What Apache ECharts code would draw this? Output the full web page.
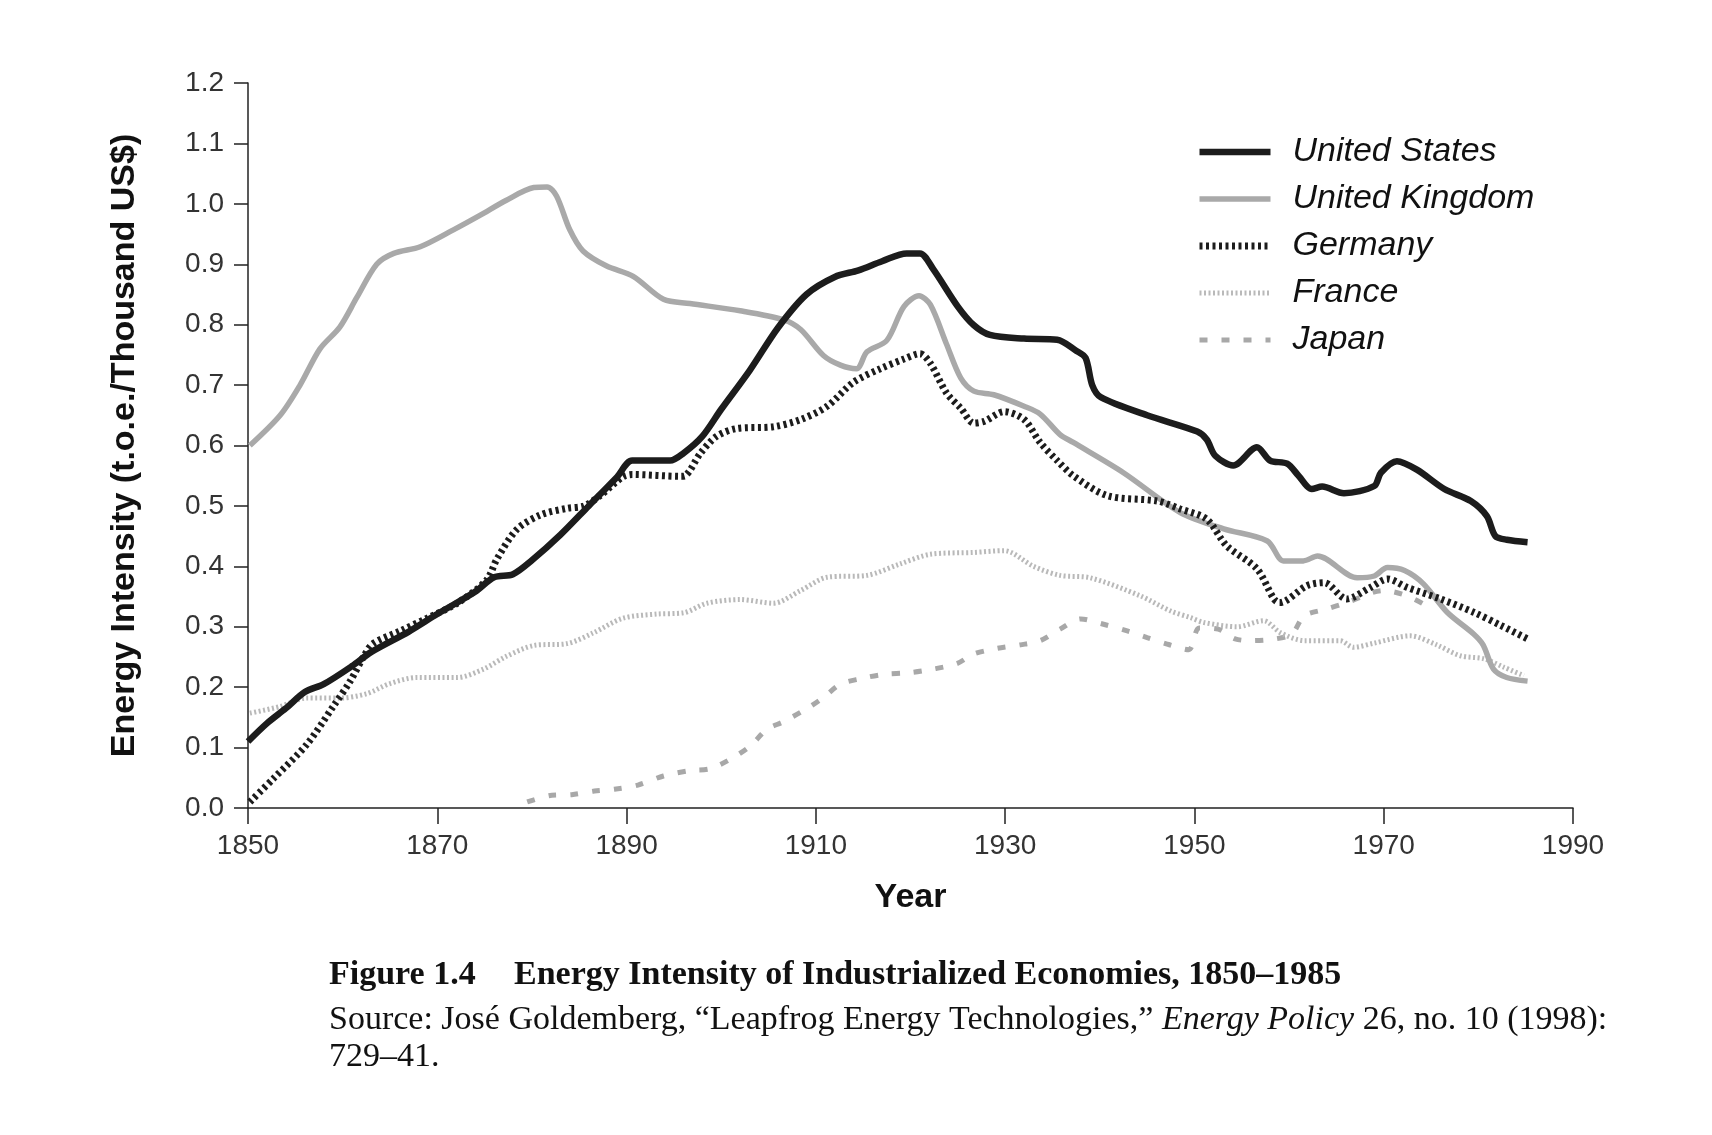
<!DOCTYPE html>
<html>
<head>
<meta charset="utf-8">
<script src="https://cdn.jsdelivr.net/npm/echarts@6/dist/echarts.min.js"></script>
<style>
  html, body { margin: 0; padding: 0; background: #fff; }
  #main { width: 1712px; height: 1135px; }
</style>
</head>
<body>
<div id="main"></div>
<script>
var names = ['United States', 'United Kingdom', 'Germany', 'France', 'Japan'];

// [year, t.o.e. per thousand US$]
var usData = [
  [1850, 0.11], [1852, 0.14], [1854, 0.165], [1856, 0.192], [1858, 0.205], [1861, 0.235],
  [1863, 0.258], [1867, 0.292], [1870, 0.321], [1874, 0.358], [1876, 0.382], [1878, 0.387],
  [1880, 0.41], [1883, 0.452], [1886, 0.50], [1889, 0.548], [1890.6, 0.575], [1894.6, 0.575],
  [1896, 0.587], [1898, 0.615], [1900, 0.66], [1903, 0.724], [1906, 0.795], [1909, 0.85],
  [1912, 0.879], [1914.5, 0.89], [1917, 0.905], [1919.6, 0.918], [1921, 0.918], [1922.4, 0.892],
  [1925, 0.83], [1926.7, 0.799], [1928.4, 0.783], [1932, 0.777], [1935.5, 0.775], [1937.5, 0.757],
  [1938.5, 0.745], [1939.2, 0.70], [1940.1, 0.68], [1945, 0.65], [1950.3, 0.623], [1951.3, 0.61],
  [1952.2, 0.583], [1954.1, 0.567], [1956.6, 0.597], [1958, 0.575], [1959.8, 0.57], [1961, 0.55],
  [1962.4, 0.528], [1963.5, 0.532], [1965.8, 0.521], [1969, 0.533], [1969.7, 0.555], [1971.4, 0.574],
  [1973.5, 0.56], [1976.4, 0.528], [1979.2, 0.508], [1980.9, 0.483], [1981.8, 0.45], [1983, 0.444],
  [1985.2, 0.44]
];
var ukData = [
  [1850.2, 0.60], [1853.4, 0.65], [1855.5, 0.70], [1857.6, 0.76], [1859.7, 0.796], [1861.5, 0.845],
  [1863.6, 0.90], [1865.4, 0.918], [1868.2, 0.929], [1871.7, 0.957], [1874.5, 0.981], [1877.3, 1.006],
  [1880.2, 1.027], [1881.6, 1.028], [1882.6, 1.013], [1884, 0.957], [1885.4, 0.922], [1887.9, 0.897],
  [1890.7, 0.88], [1893.9, 0.842], [1896.7, 0.835], [1902, 0.823], [1906.6, 0.808], [1908.4, 0.792],
  [1910.8, 0.749], [1912.6, 0.733], [1914.3, 0.727], [1915.4, 0.755], [1917.5, 0.774], [1919.3, 0.83],
  [1920.9, 0.848], [1922.1, 0.833], [1923.8, 0.768], [1925.3, 0.712], [1926.7, 0.69], [1928.8, 0.684],
  [1932, 0.665], [1933.7, 0.652], [1935.8, 0.618], [1937.2, 0.605], [1942.5, 0.555], [1948.5, 0.489],
  [1953.1, 0.462], [1957.7, 0.442], [1959.4, 0.409], [1961.5, 0.409], [1963, 0.417], [1967.2, 0.381],
  [1969, 0.384], [1970.4, 0.398], [1972.2, 0.393], [1974.2, 0.371], [1976.7, 0.324], [1979.5, 0.288],
  [1980.5, 0.27], [1981.6, 0.23], [1983, 0.216], [1985.2, 0.21]
];
var deData = [
  [1850.2, 0.01], [1852.7, 0.049], [1856.2, 0.105], [1859, 0.168], [1860.8, 0.21], [1862.2, 0.25],
  [1863.2, 0.272], [1866.1, 0.293], [1868.9, 0.314], [1872.1, 0.339], [1875.2, 0.377], [1876.3, 0.412],
  [1878.4, 0.461], [1880.9, 0.485], [1883.7, 0.496], [1885.5, 0.50], [1887.2, 0.517], [1889.6, 0.548],
  [1890.6, 0.552], [1895.7, 0.549], [1896.2, 0.55], [1897.8, 0.587], [1899.5, 0.615], [1901.6, 0.628],
  [1905.5, 0.631], [1908.4, 0.643], [1911.2, 0.665], [1914, 0.705], [1916.8, 0.727], [1919.3, 0.743],
  [1921, 0.752], [1922.1, 0.736], [1923.8, 0.687], [1925.3, 0.662], [1926.7, 0.637], [1927.8, 0.64],
  [1929.9, 0.656], [1932, 0.643], [1933.7, 0.605], [1935.5, 0.575], [1937.2, 0.55], [1940.8, 0.517],
  [1946.1, 0.508], [1948.5, 0.495], [1951.3, 0.478], [1953.4, 0.434], [1956.6, 0.396], [1958.4, 0.346],
  [1959, 0.34], [1961.9, 0.368], [1963.7, 0.373], [1966.1, 0.346], [1968.6, 0.365], [1970.4, 0.379],
  [1972.5, 0.365], [1976, 0.346], [1979.5, 0.324], [1982.4, 0.302], [1985.2, 0.28]
];
var frData = [
  [1850.2, 0.157], [1853.4, 0.168], [1856.2, 0.182], [1859.7, 0.182], [1862.5, 0.189], [1865, 0.206],
  [1867.8, 0.216], [1872.1, 0.216], [1874.9, 0.23], [1877.3, 0.251], [1880.2, 0.269], [1883.7, 0.272],
  [1886.5, 0.29], [1889.6, 0.314], [1893.2, 0.321], [1896, 0.323], [1898.5, 0.339], [1902, 0.345],
  [1905.5, 0.339], [1908.4, 0.36], [1911.2, 0.382], [1915.4, 0.385], [1918.9, 0.404], [1922.1, 0.42],
  [1926.7, 0.423], [1929.9, 0.426], [1933, 0.40], [1935.8, 0.385], [1939, 0.381], [1944.3, 0.351],
  [1947.5, 0.326], [1949.6, 0.315], [1951, 0.307], [1954.5, 0.30], [1957.3, 0.31], [1959.1, 0.29],
  [1961.6, 0.277], [1965.4, 0.277], [1966.8, 0.266], [1969, 0.273], [1972.8, 0.285], [1975.6, 0.27],
  [1978.1, 0.252], [1980.6, 0.247], [1982.7, 0.233], [1984.8, 0.219]
];
var jpData = [
  [1879.5, 0.01], [1882.1, 0.021], [1884.2, 0.022], [1886.6, 0.028], [1888.7, 0.031], [1891.2, 0.038],
  [1893.9, 0.053], [1896.7, 0.062], [1898.8, 0.065], [1901, 0.081], [1903.1, 0.103], [1904.8, 0.13],
  [1906.6, 0.143], [1909.1, 0.165], [1910.8, 0.183], [1912.6, 0.205], [1914.7, 0.214], [1917.1, 0.221],
  [1919.9, 0.224], [1922.4, 0.23], [1924.9, 0.239], [1926.7, 0.255], [1929.1, 0.264], [1931.6, 0.27],
  [1933.7, 0.277], [1935.8, 0.296], [1938, 0.313], [1940.2, 0.305], [1942.9, 0.293], [1945, 0.282],
  [1947.2, 0.271], [1949.4, 0.262], [1950.5, 0.298], [1952.5, 0.296], [1954.3, 0.28], [1956, 0.277],
  [1958.6, 0.28], [1960.3, 0.288], [1961.6, 0.318], [1963.9, 0.329], [1966.1, 0.34], [1970, 0.36],
  [1972.5, 0.351], [1974.6, 0.334]
];

var sans = '"Liberation Sans", Arial, Helvetica, sans-serif';
var serif = '"Liberation Serif", "Times New Roman", serif';

var myChart = echarts.init(document.getElementById('main'));

function lineSeries(name, data, color, width, dash) {
  return {
    name: name,
    type: 'line',
    data: data,
    smooth: 0.3,
    symbol: 'none',
    lineStyle: { color: color, width: width, type: dash, cap: 'butt' },
    itemStyle: { color: color }
  };
}

var option = {
  animation: false,
  backgroundColor: '#fff',
  grid: { left: 248, top: 83, width: 1325, height: 725 },
  legend: {
    orient: 'vertical',
    left: 1191,
    top: 130,
    itemWidth: 71,
    itemHeight: 14,
    itemGap: 13,
    itemStyle: { opacity: 0 },
    lineStyle: { width: 'inherit' },
    textStyle: {
      fontFamily: sans, fontStyle: 'italic', fontSize: 34, color: '#111',
      lineHeight: 34, padding: [0, 0, 0, 17]
    },
    data: names
  },
  xAxis: {
    type: 'value',
    min: 1850, max: 1990, interval: 20,
    name: 'Year',
    nameLocation: 'middle',
    nameGap: 73,
    nameTextStyle: { fontFamily: sans, fontWeight: 'bold', fontSize: 34, color: '#111' },
    axisLine: { lineStyle: { color: '#222', width: 1.5 } },
    axisTick: { length: 16, lineStyle: { color: '#222', width: 1.5 } },
    axisLabel: {
      margin: 24, fontFamily: sans, fontSize: 28, color: '#333',
      formatter: function (v) { return String(v); }
    },
    splitLine: { show: false }
  },
  yAxis: {
    type: 'value',
    min: 0, max: 1.2, interval: 0.1,
    name: 'Energy Intensity (t.o.e./Thousand US$)',
    nameLocation: 'middle',
    nameRotate: 90,
    nameGap: 106,
    nameTextStyle: { fontFamily: sans, fontWeight: 'bold', fontSize: 34, color: '#111' },
    axisLine: { show: true, lineStyle: { color: '#222', width: 1.5 } },
    axisTick: { show: true, length: 14, lineStyle: { color: '#222', width: 1.5 } },
    axisLabel: {
      margin: 24, fontFamily: sans, fontSize: 28, color: '#333',
      formatter: function (v) { return v.toFixed(1); }
    },
    splitLine: { show: false }
  },
  series: [
    lineSeries('Japan', jpData, '#a8a8a8', 5, [8, 14]),
    lineSeries('France', frData, '#b9b9b9', 5, [2, 2.5]),
    lineSeries('United Kingdom', ukData, '#a9a9a9', 5.5, 'solid'),
    lineSeries('Germany', deData, '#1c1c1c', 7, [3, 3.5]),
    lineSeries('United States', usData, '#1c1c1c', 6.5, 'solid')
  ],
  graphic: [
    {
      type: 'text', left: 329, top: 958,
      style: { text: 'Figure 1.4', fontFamily: serif, fontWeight: 'bold', fontSize: 34, fill: '#111' }
    },
    {
      type: 'text', left: 514, top: 958,
      style: {
        text: 'Energy Intensity of Industrialized Economies, 1850\u20131985',
        fontFamily: serif, fontWeight: 'bold', fontSize: 34, fill: '#111'
      }
    },
    {
      type: 'text', left: 329, top: 1003,
      style: {
        text: 'Source: Jos\u00e9 Goldemberg, \u201cLeapfrog Energy Technologies,\u201d {i|Energy Policy} 26, no. 10 (1998):',
        fontFamily: serif, fontSize: 34, fill: '#111',
        rich: { i: { fontFamily: serif, fontSize: 34, fontStyle: 'italic', fill: '#111' } }
      }
    },
    {
      type: 'text', left: 329, top: 1040,
      style: { text: '729\u201341.', fontFamily: serif, fontSize: 34, fill: '#111' }
    }
  ]
};

myChart.setOption(option);
</script>
</body>
</html>
